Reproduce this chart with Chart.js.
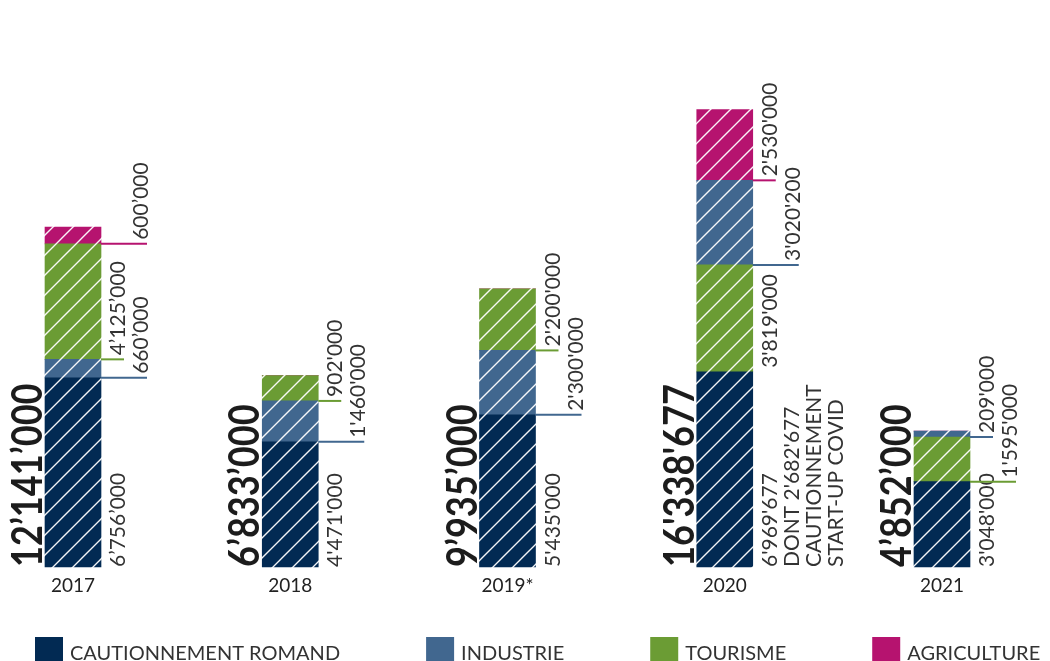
<!DOCTYPE html>
<html>
<head>
<meta charset="utf-8">
<script src="https://cdn.jsdelivr.net/npm/chart.js@4.4.1/dist/chart.umd.min.js"></script>
<style>
    html, body { margin: 0; padding: 0; background: #fff; }
    #wrap { width: 1050px; height: 661px; }
</style>
</head>
<body>
<div id="wrap"><canvas id="chart" width="1050" height="661"></canvas></div>
<script>
// data
const years = ['2017', '2018', '2019*', '2020', '2021'];
const cautionnement = [6756000, 4471000, 5435000, 6969677, 3048000];
const industrie = [660000, 1460000, 2300000, 3020200, 209000];
const tourisme = [4125000, 902000, 2200000, 3819000, 1595000];
const agriculture = [600000, 0, 0, 2530000, 0];
const totals = ['12’141’000', '6’833’000', '9’935’000', '16\'338\'677', '4’852’000'];
const separators = ['’', '\'', '\'', '\'', '\''];
const notes = [[], [], [], ['DONT 2\'682\'677', 'CAUTIONNEMENT', 'START-UP COVID'], []];
// in 2020 and 2021 industrie sits on top of tourisme
const industrieOnTop = [false, false, false, true, true];

const colors = {
    caution: '#022a53',
    industrie: '#41678f',
    tourisme: '#6b9c34',
    agriculture: '#b6136f'
};
const legendItems = [
    ['CAUTIONNEMENT ROMAND', colors.caution],
    ['INDUSTRIE', colors.industrie],
    ['TOURISME', colors.tourisme],
    ['AGRICULTURE', colors.agriculture]
];

const canvas = document.getElementById('chart');
const ctx = canvas.getContext('2d');

function hatch(color) {
    const s = 20;
    const c = document.createElement('canvas');
    c.width = s;
    c.height = s;
    const x = c.getContext('2d');
    x.fillStyle = color;
    x.fillRect(0, 0, s, s);
    x.strokeStyle = 'rgba(255,255,255,0.95)';
    x.lineWidth = 1.4;
    x.beginPath();
    x.moveTo(-2, s + 2); x.lineTo(s + 2, -2);
    x.moveTo(-s / 2 - 2, s / 2 + 2); x.lineTo(s / 2 + 2, -s / 2 - 2);
    x.moveTo(s / 2 - 2, s * 1.5 + 2); x.lineTo(s * 1.5 + 2, s / 2 - 2);
    x.stroke();
    return ctx.createPattern(c, 'repeat');
}

function fmt(v, sep) {
    return String(Math.round(v)).replace(/\B(?=(\d{3})+(?!\d))/g, sep);
}

function vText(text, x, y, font, color, sx) {
    ctx.save();
    ctx.translate(x, y);
    ctx.rotate(-Math.PI / 2);
    ctx.scale(sx || 1, 1);
    ctx.font = font;
    ctx.fillStyle = color;
    ctx.textAlign = 'left';
    ctx.textBaseline = 'alphabetic';
    ctx.fillText(text, 0, 0);
    ctx.restore();
}

const LABEL_FONT = '21px Lato';
const LABEL_COLOR = '#333333';

// rotated values, leader lines, totals and the legend
const annotations = {
    id: 'annotations',
    afterDatasetsDraw(chart) {
        years.forEach((year, i) => {
            const segs = [];
            chart.data.datasets.forEach((ds, d) => {
                const v = ds.data[i];
                if (!v) return;
                segs.push({ el: chart.getDatasetMeta(d).data[i], value: v, color: ds.lineColor });
            });
            if (!segs.length) return;

            const base = segs[0].el;
            const right = base.x + base.width / 2;
            const left = base.x - base.width / 2;
            const bottom = base.base;
            const sep = separators[i];

            // base segment value + notes
            vText(fmt(segs[0].value, sep), right + 24, bottom, LABEL_FONT, LABEL_COLOR);
            notes[i].forEach((line, j) => {
                vText(line, right + 24 + 22 * (j + 1), bottom, LABEL_FONT, LABEL_COLOR);
            });

            // stacked segments alternate between two columns
            let col = notes[i].length ? 1 : 2;
            segs.slice(1).forEach((s, k) => {
                const y = s.el.base;
                const textX = col === 1 ? right + 24 : right + 47;
                if (!(col === 1 && k === 0)) {
                    ctx.save();
                    ctx.strokeStyle = s.color;
                    ctx.lineWidth = 2;
                    ctx.beginPath();
                    ctx.moveTo(right, y);
                    ctx.lineTo(textX - 1, y);
                    ctx.stroke();
                    ctx.restore();
                }
                vText(fmt(s.value, sep), textX, y - 4, LABEL_FONT, LABEL_COLOR);
                col = col === 1 ? 2 : 1;
            });

            // total on the left of the bar
            vText(totals[i], left - 3, bottom, 'bold 42px Lato', '#1c1c1c', 0.86);
        });
    },
    afterDraw(chart) {
        let x = 35;
        ctx.save();
        ctx.font = '20px Lato';
        ctx.textBaseline = 'alphabetic';
        legendItems.forEach(([label, color]) => {
            ctx.fillStyle = color;
            ctx.fillRect(x, 637, 28, 24);
            ctx.fillStyle = LABEL_COLOR;
            ctx.fillText(label, x + 35, 660);
            x += 35 + ctx.measureText(label).width + 86;
        });
        ctx.restore();
    }
};

const onlyWhen = (arr, flags, want) => arr.map((v, i) => (flags[i] === want ? v : null));

new Chart(canvas, {
    type: 'bar',
    data: {
        labels: years,
        datasets: [
            { label: 'Cautionnement romand', data: cautionnement, backgroundColor: hatch(colors.caution), lineColor: colors.caution },
            { label: 'Industrie', data: onlyWhen(industrie, industrieOnTop, false), backgroundColor: hatch(colors.industrie), lineColor: colors.industrie },
            { label: 'Tourisme', data: tourisme, backgroundColor: hatch(colors.tourisme), lineColor: colors.tourisme },
            { label: 'Industrie', data: onlyWhen(industrie, industrieOnTop, true), backgroundColor: hatch(colors.industrie), lineColor: colors.industrie },
            { label: 'Agriculture', data: agriculture, backgroundColor: hatch(colors.agriculture), lineColor: colors.agriculture }
        ]
    },
    options: {
        responsive: false,
        animation: false,
        layout: { padding: { left: 73, right: 108, top: 7, bottom: 0 } },
        datasets: { bar: { barThickness: 56, borderWidth: 0, clip: false } },
        plugins: {
            legend: { display: false },
            tooltip: { enabled: false }
        },
        scales: {
            x: {
                stacked: true,
                offset: false,
                grid: { display: false, drawTicks: false },
                border: { display: false },
                ticks: { color: '#222', font: { family: 'Lato', size: 19 }, padding: 7, maxRotation: 0 },
                afterFit(scale) { scale.height = 94; }
            },
            y: {
                stacked: true,
                display: false,
                min: 0,
                max: 20000000
            }
        }
    },
    plugins: [annotations]
});
</script>
</body>
</html>
